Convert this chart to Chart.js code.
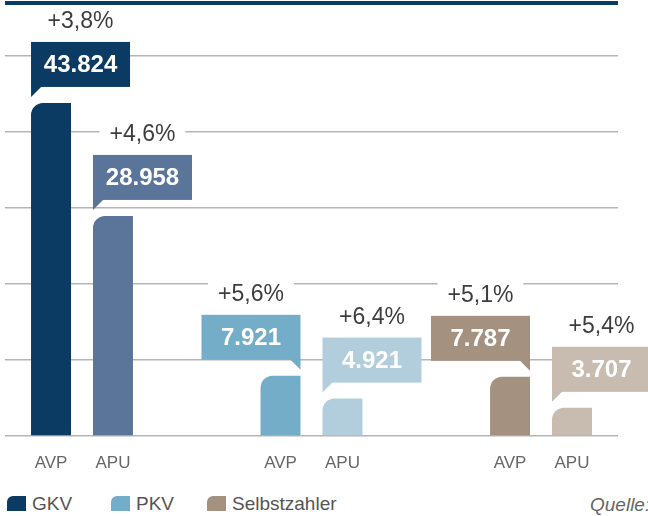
<!DOCTYPE html>
<html lang="de">
<head>
<meta charset="utf-8">
<script src="https://cdn.jsdelivr.net/npm/chart.js@4.4.1/dist/chart.umd.min.js"></script>
<style>
    body { margin: 0; width: 648px; height: 516px; overflow: hidden; background: #fff; font-family: "Liberation Sans", Arial, sans-serif; }
    #wrap { position: relative; width: 648px; height: 516px; }
    #chart { position: absolute; left: 0; top: 0; }
    .leyenda { position: absolute; top: 493px; height: 22px; font-size: 19px; line-height: 22px; color: #555; white-space: nowrap; }
    .leyenda .cuadro { position: absolute; left: 0; top: 3px; width: 19px; height: 15px; border-top-left-radius: 6px; }
    .leyenda span { position: absolute; left: 25px; top: 0; }
    #quelle { position: absolute; left: 590px; top: 494px; font-size: 19px; line-height: 22px; font-style: italic; color: #666; white-space: nowrap; }
</style>
</head>
<body>
<div id="wrap">
    <canvas id="chart" width="648" height="480"></canvas>
    <div id="leyenda"></div>
    <div id="quelle">Quelle:</div>
</div>
<script>
// Datos del gráfico
const grupos = ['GKV', 'PKV', 'Selbstzahler'];
const tipos = ['AVP', 'APU'];
const valoresAVP = [43824, 7921, 7787];
const valoresAPU = [28958, 4921, 3707];
const cambioAVP = [3.8, 5.6, 5.1];
const cambioAPU = [4.6, 6.4, 5.4];
const ticksY = [0, 10000, 20000, 30000, 40000, 50000];

// Colores
const coloresAVP = ['#0b3a62', '#74adc8', '#a59180'];
const coloresAPU = ['#5a7599', '#b2cedd', '#c8bbaf'];
const yMax = 56974;

function fmtNumero(v) {
    return v.toString().replace(/\B(?=(\d{3})+(?!\d))/g, '.');
}

function fmtCambio(v) {
    return '+' + v.toFixed(1).replace('.', ',') + '%';
}

const FONT = '"Liberation Sans", Arial, sans-serif';

// Etiquetas: burbujas con valor, porcentaje y texto del eje
const etiquetasPlugin = {
    id: 'etiquetas',
    afterDatasetsDraw(chart) {
        const ctx = chart.ctx;
        const ancho = 99, alto = 45;
        chart.data.datasets.forEach((ds, d) => {
            const meta = chart.getDatasetMeta(d);
            meta.data.forEach((bar, i) => {
                const izq = bar.x - bar.width / 2;
                const der = bar.x + bar.width / 2;
                ctx.save();
                ctx.textAlign = 'center';
                ctx.textBaseline = 'middle';

                // texto del eje
                ctx.font = '17px ' + FONT;
                ctx.fillStyle = '#666';
                ctx.fillText(ds.label, bar.x, chart.chartArea.bottom + 27);

                // burbuja
                const lado = ds.lado[i];
                const abajo = bar.y - 16;
                const arriba = abajo - alto;
                const x0 = lado === 'left' ? izq : der - ancho;
                ctx.fillStyle = ds.backgroundColor[i];
                ctx.fillRect(x0, arriba, ancho, alto);
                ctx.beginPath();
                if (lado === 'left') {
                    ctx.moveTo(izq, abajo - 1);
                    ctx.lineTo(izq, abajo + 10);
                    ctx.lineTo(izq + 11, abajo - 1);
                } else {
                    ctx.moveTo(der, abajo - 1);
                    ctx.lineTo(der, abajo + 10);
                    ctx.lineTo(der - 11, abajo - 1);
                }
                ctx.closePath();
                ctx.fill();

                ctx.font = 'bold 24px ' + FONT;
                ctx.fillStyle = '#fff';
                ctx.fillText(fmtNumero(ds.data[i].y), x0 + ancho / 2, arriba + alto / 2 + 1);

                // porcentaje con fondo blanco
                const txt = fmtCambio(ds.cambio[i]);
                ctx.font = '23px ' + FONT;
                const w = ctx.measureText(txt).width;
                const cy = arriba - 20;
                ctx.fillStyle = '#fff';
                ctx.fillRect(x0 + ancho / 2 - w / 2 - 10, cy - 13, w + 20, 26);
                ctx.fillStyle = '#3d3d3d';
                ctx.fillText(txt, x0 + ancho / 2, cy);
                ctx.restore();
            });
        });
    }
};

const radio = { topLeft: 12, topRight: 0, bottomLeft: 0, bottomRight: 0 };

new Chart(document.getElementById('chart'), {
    type: 'bar',
    data: {
        datasets: [{
            label: tipos[0],
            data: valoresAVP.map((v, i) => ({ x: i, y: v })),
            backgroundColor: coloresAVP,
            cambio: cambioAVP,
            lado: ['left', 'right', 'right'],
            borderRadius: radio,
            categoryPercentage: 0.54,
            barPercentage: 0.645
        }, {
            label: tipos[1],
            data: valoresAPU.map((v, i) => ({ x: i, y: v })),
            backgroundColor: coloresAPU,
            cambio: cambioAPU,
            lado: ['left', 'left', 'left'],
            borderRadius: radio,
            categoryPercentage: 0.54,
            barPercentage: 0.645
        }]
    },
    options: {
        responsive: false,
        animation: false,
        layout: { padding: { left: 5, right: 30, top: 3, bottom: 44 } },
        plugins: {
            legend: { display: false },
            tooltip: { enabled: false }
        },
        scales: {
            x: {
                type: 'linear',
                offset: false,
                min: -0.3355,
                max: 2.3355,
                afterBuildTicks: axis => {
                    axis.ticks = grupos.map((g, i) => ({ value: i }));
                },
                grid: { display: false, drawTicks: false },
                border: { display: false },
                ticks: { display: false }
            },
            y: {
                min: 0,
                max: yMax,
                afterBuildTicks: axis => {
                    axis.ticks = ticksY.concat([yMax]).map(v => ({ value: v }));
                },
                ticks: { display: false },
                border: { display: false },
                grid: {
                    drawTicks: false,
                    color: c => c.tick && c.tick.value === yMax ? '#0b3a62' : '#b5b5b5',
                    lineWidth: c => c.tick && c.tick.value === yMax ? 4 : 1.5
                }
            }
        }
    },
    plugins: [etiquetasPlugin]
});

// Leyenda en HTML
const leyenda = document.getElementById('leyenda');
const posLeyenda = [7, 111, 207];
grupos.forEach((g, i) => {
    const item = document.createElement('div');
    item.className = 'leyenda';
    item.style.left = posLeyenda[i] + 'px';
    item.innerHTML = `<div class="cuadro" style="background:${coloresAVP[i]}"></div><span>${g}</span>`;
    leyenda.appendChild(item);
});
</script>
</body>
</html>
